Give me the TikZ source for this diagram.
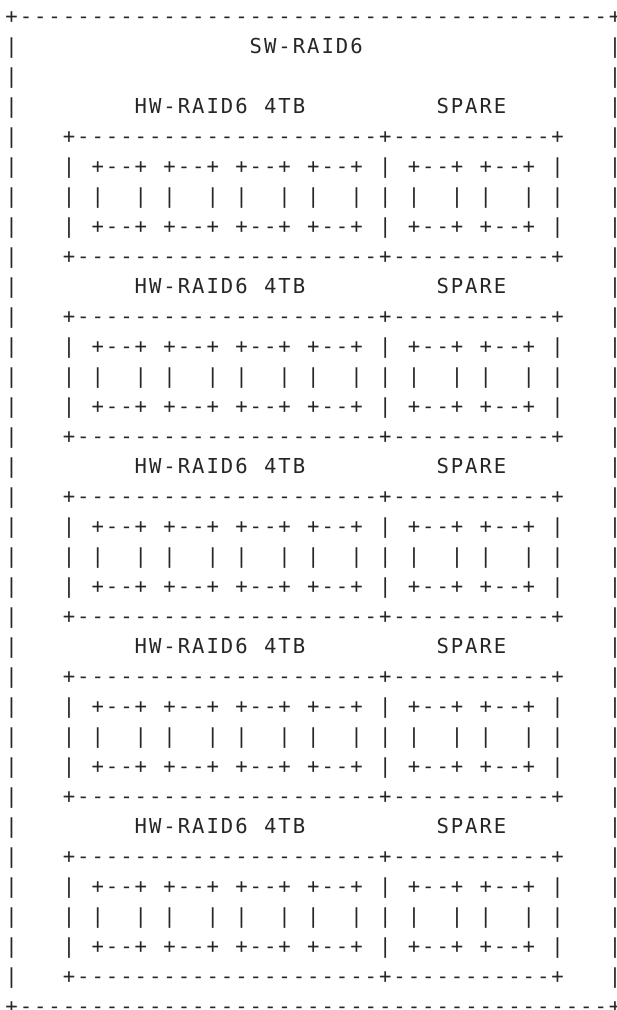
\documentclass[tikz,border=0pt]{standalone}
\usepackage{fontspec}
\setmonofont{DejaVu Sans Mono}[LetterSpace=9.56]
\ExplSyntaxOn
\newcommand\dashrun[1]{\prg_replicate:nn{#1}{-}}
\ExplSyntaxOff
\newcommand\colw{14.37}
\newcommand\putart[4]{\node[art] (#1) at ({5.4+(#2)*\colw},{986.7-30*(#3)}) {#4};}

\begin{document}
\begin{tikzpicture}[x=1pt,y=1pt,
  art/.style={anchor=base west,inner sep=0pt,outer sep=0pt,text=black!85,
    font=\ttfamily\fontsize{20.6pt}{30pt}\selectfont}]
\useasboundingbox (0,0) rectangle (617,1010);
% outer frame
\putart{top}{0}{0}{+\dashrun{41}+}
\putart{bot}{0}{33}{+\dashrun{41}+}
\foreach \r in {1,...,32}{
  \putart{l\r}{0}{\r}{|}
  \putart{r\r}{42}{\r}{|}
}
\putart{sw}{17}{1}{SW-RAID6}
% five hardware arrays with spares
\foreach \b in {0,...,4}{
  \pgfmathtruncatemacro\R{3+6*\b}
  \putart{hw\b}{9}{\R}{HW-RAID6}
  \putart{tb\b}{18}{\R}{4TB}
  \putart{spare\b}{30}{\R}{SPARE}
  \putart{trayt\b}{4}{\R+1}{+\dashrun{21}+\dashrun{11}+}
  \putart{trayb\b}{4}{\R+5}{+\dashrun{21}+\dashrun{11}+}
  \foreach \c in {4,26,38}{
    \putart{wt\b-\c}{\c}{\R+2}{|}
    \putart{wm\b-\c}{\c}{\R+3}{|}
    \putart{wb\b-\c}{\c}{\R+4}{|}
  }
  % disks
  \foreach \c in {6,11,16,21,28,33}{
    \putart{dt\b-\c}{\c}{\R+2}{+\dashrun{2}+}
    \putart{dl\b-\c}{\c}{\R+3}{|}
    \putart{dr\b-\c}{\c+3}{\R+3}{|}
    \putart{db\b-\c}{\c}{\R+4}{+\dashrun{2}+}
  }
}
\end{tikzpicture}
\end{document}
